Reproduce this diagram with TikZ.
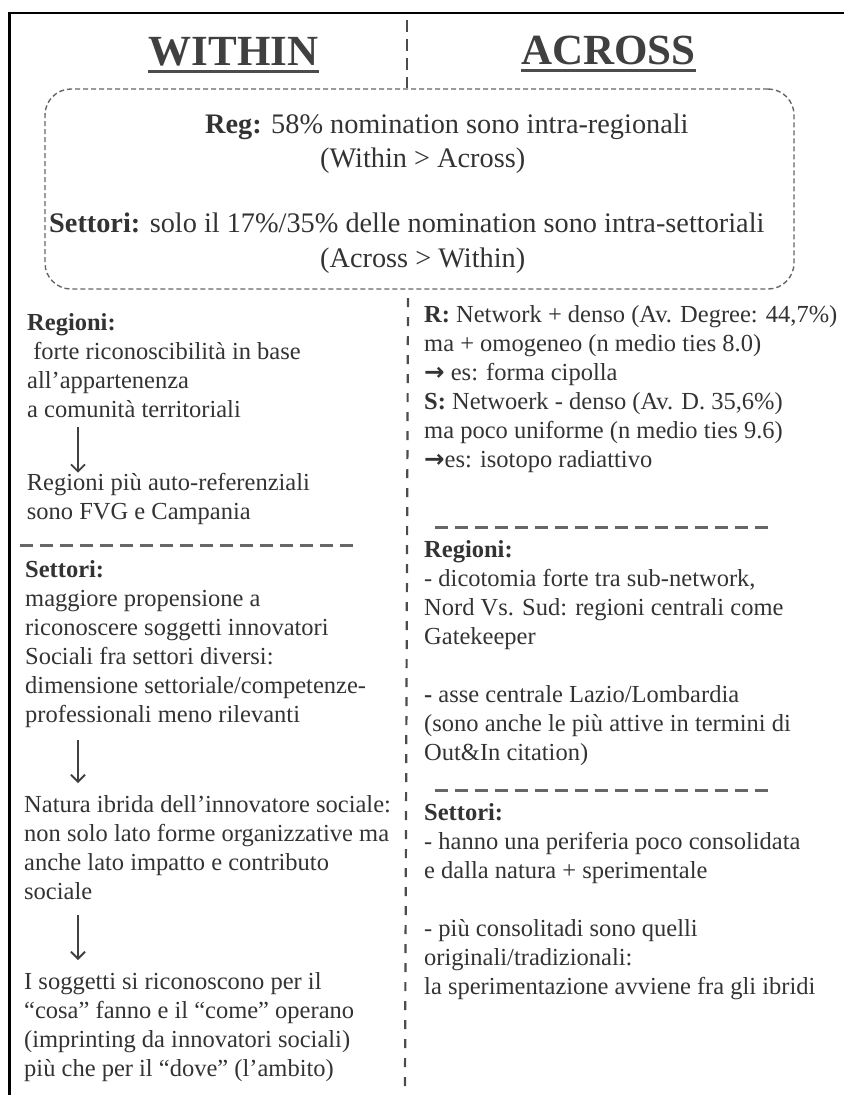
\documentclass[tikz,border=0pt]{standalone}
\usepackage{fontspec}
\setmainfont{Liberation Serif}
\newfontfamily\ArrowFont{DejaVu Sans}
\usetikzlibrary{arrows.meta}

\newcommand{\BodyFont}{\fontsize{24.5}{29}\selectfont}
\newcommand{\BoxFont}{\fontsize{28.3}{34}\selectfont}
\newcommand{\HeadFont}{\fontsize{43}{50}\selectfont\bfseries}
\newcommand{\ToArrow}{{\ArrowFont\bfseries →}}

\begin{document}
\begin{tikzpicture}[x=1pt,y=-1pt]
   \useasboundingbox (0,0) rectangle (844,1095);
   \tikzset{BodyStyle/.style={anchor=north west, inner sep=0pt, align=left, font=\BodyFont,
      text=black!80, execute at begin node=\strut, execute at end node=\strut}}
   \tikzset{BoxText/.style={anchor=base west, inner sep=0pt, font=\BoxFont, text=black!80}}
   \tikzset{HeadStyle/.style={anchor=base, inner sep=0pt, font=\HeadFont, text=black!75}}
   \tikzset{UnderStyle/.style={line width=3pt, black!70}}
   \tikzset{BoxStyle/.style={draw=black!60, line width=1.4pt, dash pattern=on 5pt off 3pt,
      rounded corners=26pt, minimum width=749pt, minimum height=200pt, inner sep=0pt}}
   \tikzset{MidStyle/.style={line width=2.2pt, black!70, dash pattern=on 9pt off 10pt}}
   \tikzset{SepStyle/.style={line width=3pt, black!60, dash pattern=on 13pt off 7pt}}
   \tikzset{ArrowStyle/.style={line width=1.8pt, black!75,
      -{Straight Barb[length=7pt,width=14pt]}}}
   % frame
   \draw[line width=2.6pt] (9.5,1095) -- (9.5,13) -- (844,13);
   % headings
   \node[HeadStyle] (within) at (233.5,65) {WITHIN};
   \node[HeadStyle] (across) at (608.5,64) {ACROSS};
   \draw[UnderStyle] ([yshift=-6pt]within.base west) -- ([yshift=-6pt]within.base east);
   \draw[UnderStyle] ([yshift=-6pt]across.base west) -- ([yshift=-6pt]across.base east);
   % summary box
   \draw[MidStyle, dash pattern=on 12pt off 7pt] (407,20) -- (407,88);
   \node[BoxStyle] (summary) at (419.5,189) {};
   \node[BoxText] (boxreg) at (205,133) {\textbf{Reg:} 58\% nomination sono intra-regionali};
   \node[BoxText] (boxregnote) at (320,167) {(Within > Across)};
   \node[BoxText] (boxset) at (49,232) {\textbf{Settori:} solo il 17\%/35\% delle nomination sono intra-settoriali};
   \node[BoxText] (boxsetnote) at (320,267) {(Across > Within)};
   \draw[MidStyle] (408,298) -- (405,1086);
   % within column
   \node[BodyStyle] (lreg) at (27,313.7) {\textbf{Regioni:}\\\ forte riconoscibilità in base\\all’appartenenza\\a comunità territoriali};
   \node[BodyStyle] (lauto) at (26.7,472.7) {Regioni più auto-referenziali\\sono FVG e Campania};
   \draw[SepStyle] (20,545) -- (355,545);
   \node[BodyStyle] (lset) at (25,560.7) {\textbf{Settori:}\\maggiore propensione a\\riconoscere soggetti innovatori\\Sociali fra settori diversi:\\dimensione settoriale/competenze-\\professionali meno rilevanti};
   \node[BodyStyle] (lnat) at (24,795.7) {Natura ibrida dell’innovatore sociale:\\non solo lato forme organizzative ma\\anche lato impatto e contributo\\sociale};
   \node[BodyStyle] (lsog) at (24,972.7) {I soggetti si riconoscono per il\\“cosa” fanno e il “come” operano\\(imprinting da innovatori sociali)\\più che per il “dove” (l’ambito)};
   \draw[ArrowStyle] ([xshift=51pt]lreg.south west) -- ([xshift=51.3pt]lauto.north west);
   \draw[ArrowStyle] ([xshift=53pt,yshift=-8.3pt]lset.south west) -- ([xshift=54pt,yshift=12.7pt]lnat.north west);
   \draw[ArrowStyle] ([xshift=54pt,yshift=-6.3pt]lnat.south west) -- ([xshift=54pt,yshift=12.7pt]lsog.north west);
   % across column
   \node[BodyStyle] (rrs) at (424,305.7) {\textbf{R:} Network + denso (Av. Degree: 44,7\%)\\ma + omogeneo (n medio ties 8.0)\\\ToArrow{} es: forma cipolla\\\textbf{S:} Netwoerk - denso (Av. D. 35,6\%)\\ma poco uniforme (n medio ties 9.6)\\\ToArrow es: isotopo radiattivo};
   \draw[SepStyle] (435,527) -- (772,527);
   \node[BodyStyle] (rreg) at (424,540.7) {\textbf{Regioni:}\\- dicotomia forte tra sub-network,\\Nord Vs. Sud: regioni centrali come\\Gatekeeper};
   \node[BodyStyle] (rasse) at (424,685.7) {\textbf{-} asse centrale Lazio/Lombardia\\(sono anche le più attive in termini di\\Out\&In citation)};
   \draw[SepStyle] (435,790) -- (772,790);
   \node[BodyStyle] (rset) at (424,803.7) {\textbf{Settori:}\\- hanno una periferia poco consolidata\\e dalla natura + sperimentale};
   \node[BodyStyle] (rpiu) at (424,919.7) {- più consolitadi sono quelli\\originali/tradizionali:\\la sperimentazione avviene fra gli ibridi};
\end{tikzpicture}
\end{document}
